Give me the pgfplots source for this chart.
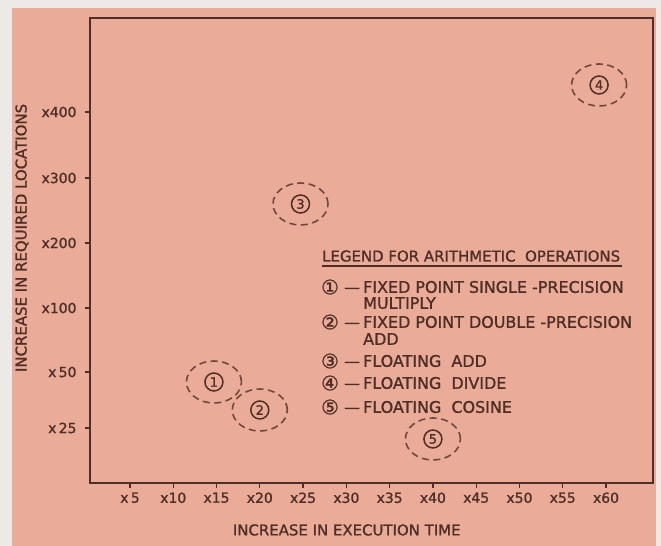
\documentclass[border=0pt]{standalone}
\usepackage{pgfplots}
\pgfplotsset{compat=1.18}
\usepackage{fontspec}
\setmainfont{DejaVu Sans}[FakeBold=1.2]
\newfontfamily\circfont{DejaVu Sans}[FakeBold=1.2]
\definecolor{peach}{RGB}{234,172,152}
\definecolor{strip}{RGB}{236,233,231}
\definecolor{ink}{RGB}{78,46,38}
\definecolor{dashink}{RGB}{112,72,62}
\pgfdeclareplotmark{dell}{\pgfpathellipse{\pgfpointorigin}{\pgfqpoint{27.5bp}{0bp}}{\pgfqpoint{0bp}{21bp}}\pgfusepathqstroke}
\begin{document}
\begin{tikzpicture}[x=1bp,y=1bp]
\fill[strip] (-90,-63) rectangle (571,483);
\fill[peach] (-78,-63) rectangle (566,475);
\begin{axis}[at={(0,0)}, anchor=south west, scale only axis,
  width=563bp, height=465bp, clip=false,
  xmin=0.38, xmax=65.43, ymin=0, ymax=465,
  xtick={5,10,...,60},
  xticklabels={x\,5,x10,x15,x20,x25,x30,x35,x40,x45,x50,x55,x60},
  ytick={55,111,175,240,305,371},
  yticklabels={x\,25,x\,50,x100,x200,x300,x400},
  tick align=outside, tick pos=left, major tick length=5bp,
  axis line style={ink, line width=1.8bp},
  tick style={ink, line width=1.2bp},
  ticklabel style={font=\fontsize{14}{16}\selectfont, text=ink},
  xticklabel style={yshift=-1bp},
  yticklabel style={xshift=-5bp},
  xlabel={INCREASE IN EXECUTION TIME},
  ylabel={INCREASE IN REQUIRED LOCATIONS},
  label style={font=\fontsize{15}{17}\selectfont, text=ink},
  xlabel style={at={(axis description cs:0.456,-0.101)}, anchor=center},
  ylabel style={at={(axis description cs:-0.1208,0.527)}, anchor=center},
]
\addplot[only marks, mark=dell,
  mark options={dashink, line width=1.6bp, dash pattern=on 7bp off 4.5bp},
  point meta=explicit symbolic, nodes near coords,
  every node near coord/.append style={anchor=center, circle, draw=ink, solid,
    line width=1.5bp, minimum size=18bp, inner sep=0pt,
    font=\fontsize{13}{13}\selectfont, text=ink}]
  table[meta=lab] {
x y lab
14.7 101 1
20.0 73 2
24.7 279 3
59.2 398 4
40.0 44 5
};
\end{axis}
\begin{scope}[every node/.style={inner sep=0pt, text=ink, font=\fontsize{16}{18}\selectfont}]
\node[anchor=base west, font=\fontsize{15}{17}\selectfont] at (232,221.5) {LEGEND FOR ARITHMETIC\ \ OPERATIONS};
\draw[ink, line width=2.2bp] (232,217) -- (532,217);
\foreach \n/\yy in {①/196, ②/161, ③/122, ④/100, ⑤/76} {
  \node[anchor=center, font=\circfont\fontsize{20}{20}\selectfont] at (240,\yy) {\n};
  \node[anchor=base west] at (254,\yy-5.8) {—};
}
\node[anchor=base west] at (273,196-5.8) {FIXED POINT SINGLE -PRECISION};
\node[anchor=base west] at (273,180-5.8) {MULTIPLY};
\node[anchor=base west] at (273,161-5.8) {FIXED POINT DOUBLE -PRECISION};
\node[anchor=base west] at (273,144-5.8) {ADD};
\node[anchor=base west] at (273,122-5.8) {FLOATING\ \ ADD};
\node[anchor=base west] at (273,100-5.8) {FLOATING\ \ DIVIDE};
\node[anchor=base west] at (273,76-5.8) {FLOATING\ \ COSINE};
\end{scope}
\end{tikzpicture}
\end{document}
